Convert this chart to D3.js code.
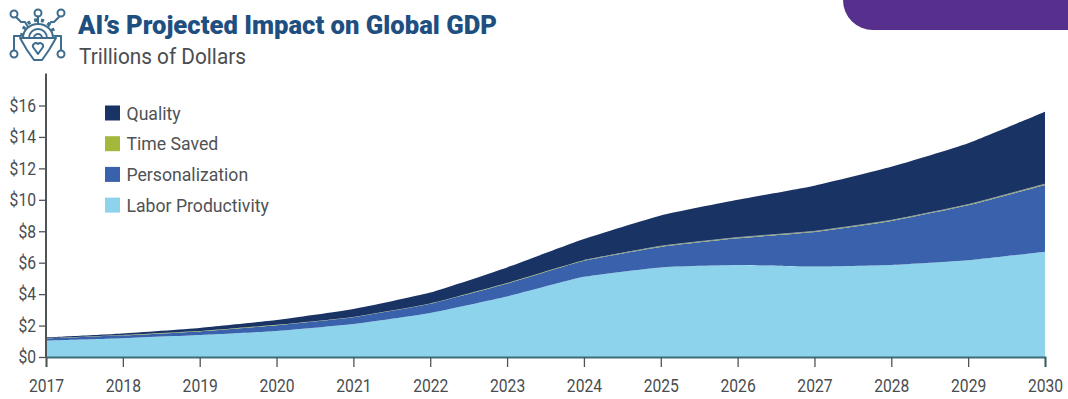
<!DOCTYPE html>
<html>
<head>
<meta charset="utf-8">
<script src="https://cdnjs.cloudflare.com/ajax/libs/d3/7.8.5/d3.min.js"></script>
<style>
html,body{margin:0;padding:0;background:#fff;overflow:hidden}
svg{display:block}
text{font-family:Roboto,"Liberation Sans",sans-serif}
</style>
</head>
<body>
<svg id="chart" width="1068" height="399"></svg>
<script>
// Projected contribution to global GDP, trillions of dollars
const years = [2017,2018,2019,2020,2021,2022,2023,2024,2025,2026,2027,2028,2029,2030];
const laborProductivity = [1.05,1.2,1.4,1.65,2.1,2.8,3.85,5.1,5.7,5.85,5.75,5.85,6.15,6.7];
const personalization   = [0.13,0.18,0.23,0.37,0.43,0.58,0.82,1.02,1.3,1.7,2.2,2.8,3.5,4.25];
const timeSaved         = [0.02,0.02,0.02,0.03,0.02,0.02,0.03,0.03,0.05,0.05,0.05,0.05,0.05,0.05];
const quality           = [0.05,0.1,0.2,0.3,0.5,0.7,1.0,1.35,1.95,2.4,2.9,3.4,3.9,4.6];
const yTicks = [0,2,4,6,8,10,12,14,16];

const seriesKeys = ["Labor Productivity","Personalization","Time Saved","Quality"];
const seriesValues = [laborProductivity,personalization,timeSaved,quality];
const colors = {"Labor Productivity":"#8dd3ec","Personalization":"#3a62ac","Time Saved":"#a4b93c","Quality":"#1a3365"};
const legendOrder = ["Quality","Time Saved","Personalization","Labor Productivity"];

const svg = d3.select("#chart");
const x = d3.scaleLinear().domain([2017,2030]).range([46,1045]);
const y = d3.scaleLinear().domain([0,16]).range([357,105.5]);

const rows = years.map((yr,i)=>{
  const r = {year:yr};
  seriesKeys.forEach((k,j)=>{ r[k] = seriesValues[j][i]; });
  return r;
});
const stacked = d3.stack().keys(seriesKeys)(rows);
const curve = d3.curveCardinal.tension(0.55);
const area = d3.area()
  .x(d=>x(d.data.year)).y0(d=>y(d[0])).y1(d=>y(d[1]))
  .curve(curve);

// Corner tab in the top right
svg.append("path")
  .attr("d","M843,0 A30,30 0 0 0 873,30 L1068,30 L1068,0 Z")
  .attr("fill","#56308c");

// Stacked areas
svg.append("g").selectAll("path").data(stacked).join("path")
  .attr("d",area)
  .attr("fill",d=>colors[d.key]);

// The thin time-saved band reads as a pale rule once it has any width
const timeBand = stacked.find(s=>s.key==="Time Saved").filter(d=>d.data.year>=2024);
svg.append("path")
  .attr("d",d3.line().x(d=>x(d.data.year)).y(d=>y(d[1])).curve(curve)(timeBand))
  .attr("fill","none").attr("stroke","#8a9ca6").attr("stroke-width",1);

// Axes
const axisColor = "#4f5457";
const squeeze = function(factor){
  return function(){ return this.getComputedTextLength()*factor; };
};
const yAxis = svg.append("g").attr("transform","translate(46,0)")
  .call(d3.axisLeft(y).tickValues(yTicks).tickFormat(d=>"$"+d).tickSize(7).tickPadding(3));
yAxis.select(".domain").remove();
yAxis.selectAll("line").attr("stroke",axisColor).attr("stroke-width",1.3);
yAxis.selectAll("text").attr("font-size",18).attr("fill","#4a4d50")
  .attr("textLength",squeeze(0.87)).attr("lengthAdjust","spacingAndGlyphs");
svg.append("line").attr("x1",46).attr("x2",46).attr("y1",y(16)-32).attr("y2",y(0))
  .attr("stroke",axisColor).attr("stroke-width",2);

const xAxis = svg.append("g").attr("transform","translate(0,357)")
  .call(d3.axisBottom(x).tickValues(years).tickFormat(d3.format("d")).tickSize(10).tickPadding(12));
xAxis.select(".domain").attr("stroke","#3f6d78").attr("stroke-width",2);
xAxis.selectAll("line").attr("stroke",axisColor).attr("stroke-width",1.3);
xAxis.selectAll("text").attr("font-size",18).attr("fill","#4a4d50")
  .attr("textLength",squeeze(0.87)).attr("lengthAdjust","spacingAndGlyphs");

// Legend
const legend = svg.append("g").selectAll("g").data(legendOrder).join("g")
  .attr("transform",(d,i)=>`translate(105,${113+i*30.7})`);
legend.append("rect").attr("x",0).attr("y",-7.5).attr("width",15).attr("height",15)
  .attr("fill",d=>colors[d]);
legend.append("text").attr("x",21.5).attr("y",6.5).attr("font-size",18)
  .attr("fill","#4f5255").text(d=>d)
  .attr("textLength",squeeze(0.98)).attr("lengthAdjust","spacingAndGlyphs");

// Titles
svg.append("text").attr("x",78).attr("y",34).attr("font-size",26).attr("font-weight",900)
  .attr("fill","#1f4f80").attr("textLength",419).attr("lengthAdjust","spacingAndGlyphs")
  .text("AI’s Projected Impact on Global GDP");
svg.append("text").attr("x",79).attr("y",64).attr("font-size",22)
  .attr("fill","#4a4d50").attr("textLength",167).attr("lengthAdjust","spacingAndGlyphs")
  .text("Trillions of Dollars");

// Circuit-brain emblem beside the title
const icon = svg.append("g").attr("fill","none").attr("stroke","#3f6d8e").attr("stroke-width",2)
  .attr("stroke-linecap","round").attr("stroke-linejoin","round");
[[14,14],[38,13],[61,13],[14,54],[61,54]].forEach(([cx,cy])=>{
  icon.append("circle").attr("cx",cx).attr("cy",cy).attr("r",3.5);
});
icon.append("path").attr("d","M16,17 L21,22 L25,22 L28,27 M38,16.5 L38,23 M59,17 L54,22 L51,22 L48,27");
icon.append("path").attr("d","M23,38 A15,14 0 0 1 53,38");
icon.append("path").attr("d","M22,36 A16,16 0 0 1 54,36").attr("stroke-width",3.5).attr("stroke-dasharray","3 4").attr("stroke-linecap","butt");
icon.append("path").attr("d","M29,38 A9,9 0 0 1 47,38");
icon.append("path").attr("d","M34,38 A4,4 0 0 1 42,38");
icon.append("path").attr("d","M20,38 L56,38 L49,50 L42,60 L34,60 L27,50 Z");
icon.append("path").attr("d","M14,50 L14,36 L21,36 M61,50 L61,36 L55,36");
icon.append("path").attr("d","M38,54 L33,47 A3,3 0 0 1 38,44 A3,3 0 0 1 43,47 Z");
</script>
</body>
</html>
